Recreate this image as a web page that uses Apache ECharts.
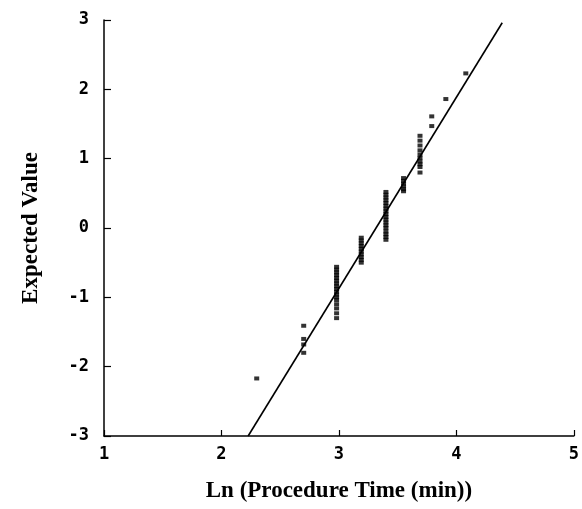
<!DOCTYPE html>
<html>
<head>
<meta charset="utf-8">
<script src="https://cdn.jsdelivr.net/npm/echarts@6/dist/echarts.min.js"></script>
<style>
  html, body { margin: 0; padding: 0; background: #fff; }
  #chart { width: 582px; height: 509px; }
</style>
</head>
<body>
<div id="chart"></div>
<script>
// observed points: ln(procedure time) vs expected normal value
const lnTime = [
  2.30,
  2.70, 2.70, 2.70, 2.70,
  2.98, 2.98, 2.98, 2.98, 2.98, 2.98, 2.98, 2.98, 2.98, 2.98, 2.98, 2.98, 2.98, 2.98, 2.98, 2.98, 2.98,
  3.19, 3.19, 3.19, 3.19, 3.19, 3.19, 3.19, 3.19, 3.19, 3.19,
  3.40, 3.40, 3.40, 3.40, 3.40, 3.40, 3.40, 3.40, 3.40, 3.40, 3.40, 3.40, 3.40, 3.40, 3.40, 3.40, 3.40, 3.40,
  3.55, 3.55, 3.55, 3.55, 3.55, 3.55,
  3.69, 3.69, 3.69, 3.69, 3.69, 3.69, 3.69, 3.69, 3.69, 3.69,
  3.79, 3.79,
  3.91,
  4.08
];
const expectedValue = [
  -2.17,
  -1.41, -1.60, -1.68, -1.80,
  -0.56, -0.60, -0.64, -0.68, -0.72, -0.76, -0.80, -0.84, -0.88, -0.92, -0.96, -1.00, -1.04, -1.10, -1.16, -1.23, -1.30,
  -0.14, -0.18, -0.22, -0.26, -0.30, -0.34, -0.38, -0.42, -0.46, -0.50,
  0.52, 0.48, 0.44, 0.40, 0.36, 0.32, 0.28, 0.24, 0.20, 0.16, 0.12, 0.08, 0.04, 0.00, -0.05, -0.09, -0.13, -0.17,
  0.72, 0.68, 0.64, 0.60, 0.56, 0.53,
  1.33, 1.26, 1.19, 1.12, 1.06, 1.01, 0.96, 0.92, 0.88, 0.80,
  1.61, 1.47,
  1.86,
  2.23
];
// fitted line end points
const fitX = [2.227, 4.39];
const fitY = [-3, 2.96];

const xTicks = [1, 2, 3, 4, 5];
const yTicks = [-3, -2, -1, 0, 1, 2, 3];

const chart = echarts.init(document.getElementById('chart'));

const tickFont = {
  fontFamily: 'DejaVu Sans Mono',
  fontWeight: 'bold',
  fontSize: 17,
  color: '#000'
};
const nameFont = {
  fontFamily: 'Liberation Serif',
  fontWeight: 'bold',
  fontSize: 23,
  color: '#000'
};

chart.setOption({
  animation: false,
  grid: { left: 104, right: 2, top: 20, bottom: 73 },
  xAxis: {
    type: 'value',
    min: xTicks[0],
    max: xTicks[xTicks.length - 1],
    interval: 1,
    name: 'Ln (Procedure Time (min))',
    nameLocation: 'middle',
    nameGap: 44,
    nameTextStyle: nameFont,
    axisLine: { show: true, onZero: false, lineStyle: { color: '#000', width: 1.5 } },
    axisTick: { show: true, inside: true, length: 6, lineStyle: { color: '#000', width: 1.2 } },
    axisLabel: Object.assign({ margin: 10 }, tickFont),
    splitLine: { show: false }
  },
  yAxis: {
    type: 'value',
    min: yTicks[0],
    max: yTicks[yTicks.length - 1],
    interval: 1,
    name: 'Expected Value',
    nameLocation: 'middle',
    nameGap: 61,
    nameTextStyle: nameFont,
    axisLine: { show: true, onZero: false, lineStyle: { color: '#000', width: 1.5 } },
    axisTick: { show: true, inside: true, length: 7, lineStyle: { color: '#000', width: 1.2 } },
    axisLabel: Object.assign({ margin: 15 }, tickFont),
    splitLine: { show: false }
  },
  series: [
    {
      type: 'scatter',
      symbol: 'rect',
      symbolSize: [5, 4],
      itemStyle: { color: '#000' },
      data: lnTime.map((x, i) => [x, expectedValue[i]])
    },
    {
      type: 'line',
      showSymbol: false,
      symbol: 'none',
      lineStyle: { color: '#000', width: 1.6 },
      data: fitX.map((x, i) => [x, fitY[i]])
    }
  ]
});
</script>
</body>
</html>
